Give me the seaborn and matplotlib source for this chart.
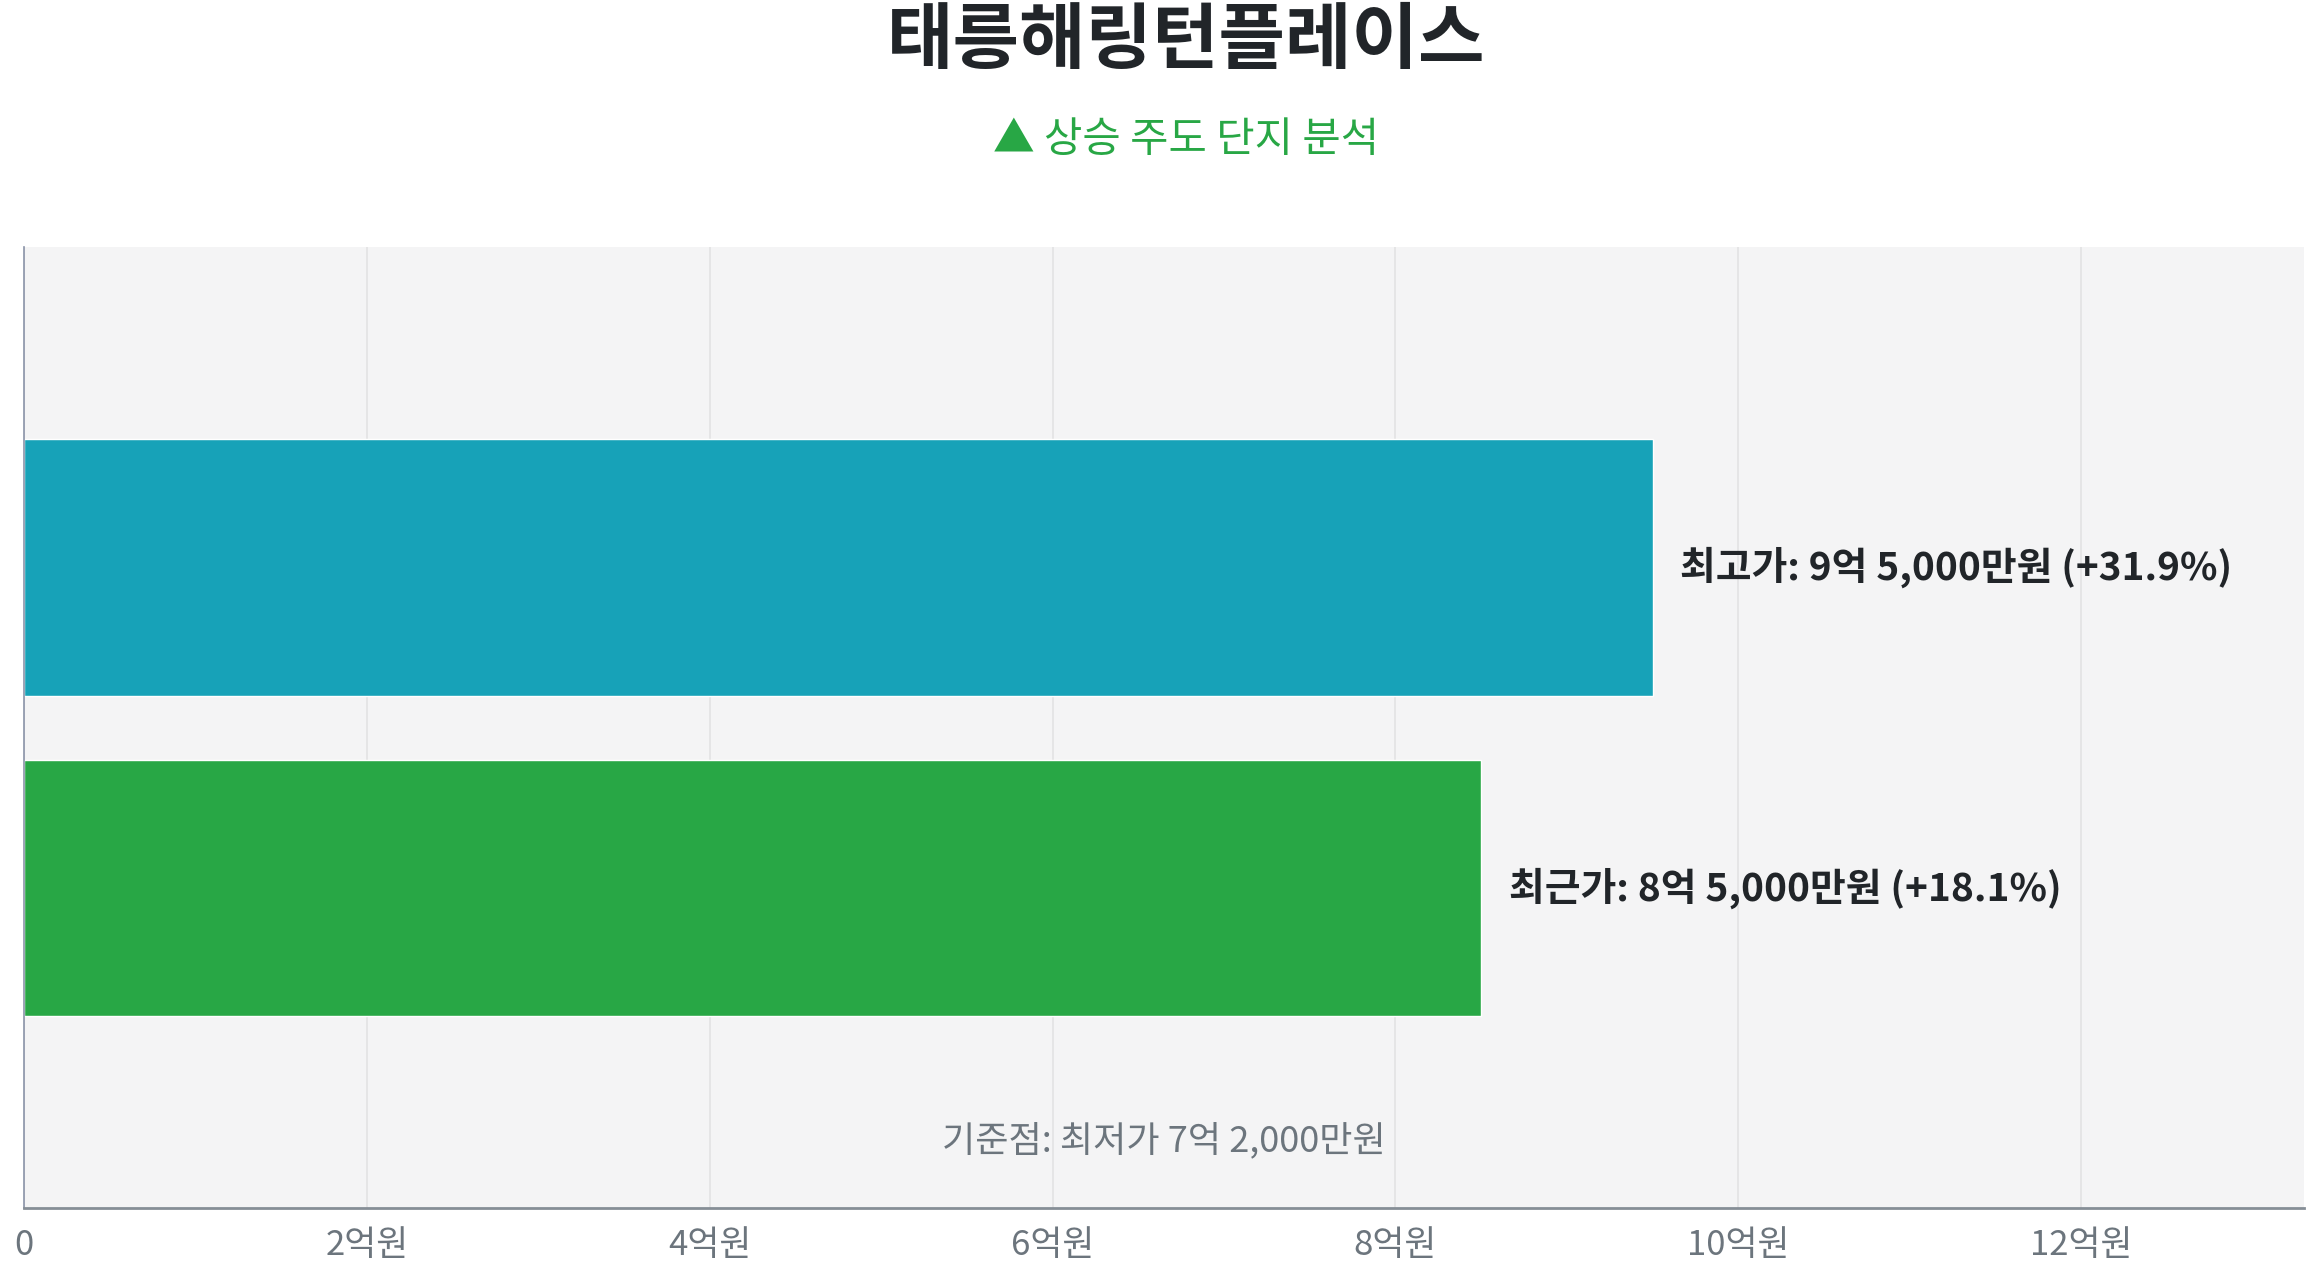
import matplotlib
matplotlib.use("Agg")
import matplotlib.pyplot as plt
import seaborn as sns
import pandas as pd

# ---- data ----
title = "태릉해링턴플레이스"
subtitle = "▲ 상승 주도 단지 분석"
categories = ["최고가", "최근가"]
values_eok = [9.5, 8.5]            # 억원
value_texts = ["9억 5,000만원", "8억 5,000만원"]
pct_changes = [31.9, 18.1]
base_text = "기준점: 최저가 7억 2,000만원"
xticks = [0, 2, 4, 6, 8, 10, 12]
xtick_labels = ["0", "2억원", "4억원", "6억원", "8억원", "10억원", "12억원"]
bar_colors = ["#17a2b8", "#28a745"]

df = pd.DataFrame({"cat": categories, "val": values_eok})

sns.set_theme(style="white")
FAM = ["Noto Sans CJK KR", "DejaVu Sans"]
plt.rcParams["font.family"] = FAM

fig = plt.figure(figsize=(23.07, 12.68), dpi=100)
ax = fig.add_axes([0.0104, 0.047, 0.9883, 0.758])
ax.set_facecolor("#f4f4f5")

sns.barplot(data=df, y="cat", x="val", hue="cat", palette=bar_colors,
            orient="h", width=0.8, legend=False, ax=ax, saturation=1)

xmax = max(values_eok) * 1.4
ax.set_xlim(0, xmax)
ax.set_ylim(2.0, -1.0)

ax.set_xticks(xticks)
ax.set_xticklabels(xtick_labels)
ax.tick_params(axis="x", colors="#6c757d", labelsize=25, length=10, width=1.5, pad=4)
ax.tick_params(axis="y", left=False, labelleft=False)
ax.set_xlabel("")
ax.set_ylabel("")
ax.grid(axis="x", color="#e3e3e3", linewidth=1.2)
ax.set_axisbelow(True)

for s in ["top", "right"]:
    ax.spines[s].set_visible(False)
ax.spines["bottom"].set_color("#868e96")
ax.spines["bottom"].set_linewidth(2)
ax.spines["left"].set_color("#8a93a8")
ax.spines["left"].set_linewidth(1.2)

for i, (v, t, p) in enumerate(zip(values_eok, value_texts, pct_changes)):
    ax.text(v + 0.16, i, f"{categories[i]}: {t} (+{p:.1f}%)", va="center", ha="left",
            fontsize=28, fontweight="bold", color="#212529", family=FAM)

ax.text(0.5, 0.07, base_text, transform=ax.transAxes, ha="center", va="center",
        fontsize=26, color="#6c757d", family=FAM)

fig.text(0.514, 0.967, title, ha="center", va="center", fontsize=52,
         fontweight="bold", color="#212529", family=FAM)
fig.text(0.514, 0.889, subtitle, ha="center", va="center", fontsize=30,
         color="#28a745", family=FAM)

fig.savefig("out.png", dpi=100)
